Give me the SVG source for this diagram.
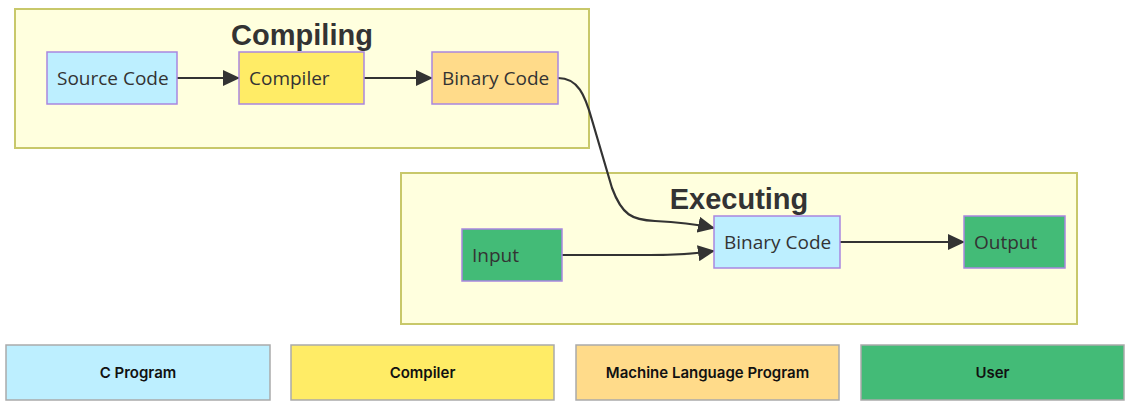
<svg xmlns="http://www.w3.org/2000/svg" width="1131" height="408" viewBox="0 0 1131 408">
<style>
.cluster{fill:#ffffde;stroke:#c8c86a;stroke-width:2}
.ctitle{font-family:"Liberation Sans",Arial,sans-serif;font-weight:bold;font-size:29px;fill:#333;text-anchor:middle}
.node rect{stroke:#a987e0;stroke-width:1.5}
.node text{font-family:"Open Sans",sans-serif;font-size:19px;fill:#333}
.edge{fill:none;stroke:#333;stroke-width:2.2}
.leg rect{stroke:#aaa;stroke-width:1.5}
.leg text{font-family:Inter,"Liberation Sans",sans-serif;font-weight:600;font-size:15px;fill:#111;text-anchor:middle}
.blue{fill:#bdefff}.yellow{fill:#ffec66}.orange{fill:#ffdb8a}.green{fill:#43bb77}
</style>
<defs>
<marker id="arrow" markerUnits="userSpaceOnUse" markerWidth="17" markerHeight="16" refX="16" refY="8" orient="auto">
<path d="M0,0 L17,8 L0,16 z" fill="#333"/>
</marker>
</defs>
<rect width="1131" height="408" fill="#fff"/>
<g id="cluster-compiling">
<rect class="cluster" x="15" y="9" width="574" height="139"/>
<text class="ctitle" x="302" y="45">Compiling</text>
</g>
<g id="cluster-executing">
<rect class="cluster" x="401" y="173" width="676" height="151"/>
<text class="ctitle" x="739" y="209">Executing</text>
</g>
<g id="connectors">
<path class="edge" d="M177,78 L239,78" marker-end="url(#arrow)"/>
<path class="edge" d="M364,78 L432,78" marker-end="url(#arrow)"/>
<path class="edge" d="M558,78 C578,78 585,95 592,120 L612,188 C622,215 632,220 655,221 C680,222 700,225 714,228" marker-end="url(#arrow)"/>
<path class="edge" d="M562,255 L650,255 C680,255 700,253 714,251" marker-end="url(#arrow)"/>
<path class="edge" d="M840,242 L964,242" marker-end="url(#arrow)"/>
</g>
<g id="node-source" class="node">
<rect class="blue" x="47" y="52" width="130" height="52"/>
<text x="57" y="85">Source Code</text>
</g>
<g id="node-compiler" class="node">
<rect class="yellow" x="239" y="52" width="125" height="52"/>
<text x="249" y="85">Compiler</text>
</g>
<g id="node-binary1" class="node">
<rect class="orange" x="432" y="52" width="126" height="52"/>
<text x="442" y="85">Binary Code</text>
</g>
<g id="node-input" class="node">
<rect class="green" x="462" y="229" width="100" height="52"/>
<text x="472" y="262">Input</text>
</g>
<g id="node-binary2" class="node">
<rect class="blue" x="714" y="216" width="126" height="52"/>
<text x="724" y="249">Binary Code</text>
</g>
<g id="node-output" class="node">
<rect class="green" x="964" y="216" width="101" height="52"/>
<text x="974" y="249">Output</text>
</g>
<g id="legend-cprogram" class="leg">
<rect class="blue" x="6" y="345" width="264" height="55"/>
<text x="138" y="378">C Program</text>
</g>
<g id="legend-compiler" class="leg">
<rect class="yellow" x="291" y="345" width="263" height="55"/>
<text x="422.5" y="378">Compiler</text>
</g>
<g id="legend-machine" class="leg">
<rect class="orange" x="576" y="345" width="263" height="55"/>
<text x="707.5" y="378">Machine Language Program</text>
</g>
<g id="legend-user" class="leg">
<rect class="green" x="861" y="345" width="263" height="55"/>
<text x="992.5" y="378">User</text>
</g>
</svg>
